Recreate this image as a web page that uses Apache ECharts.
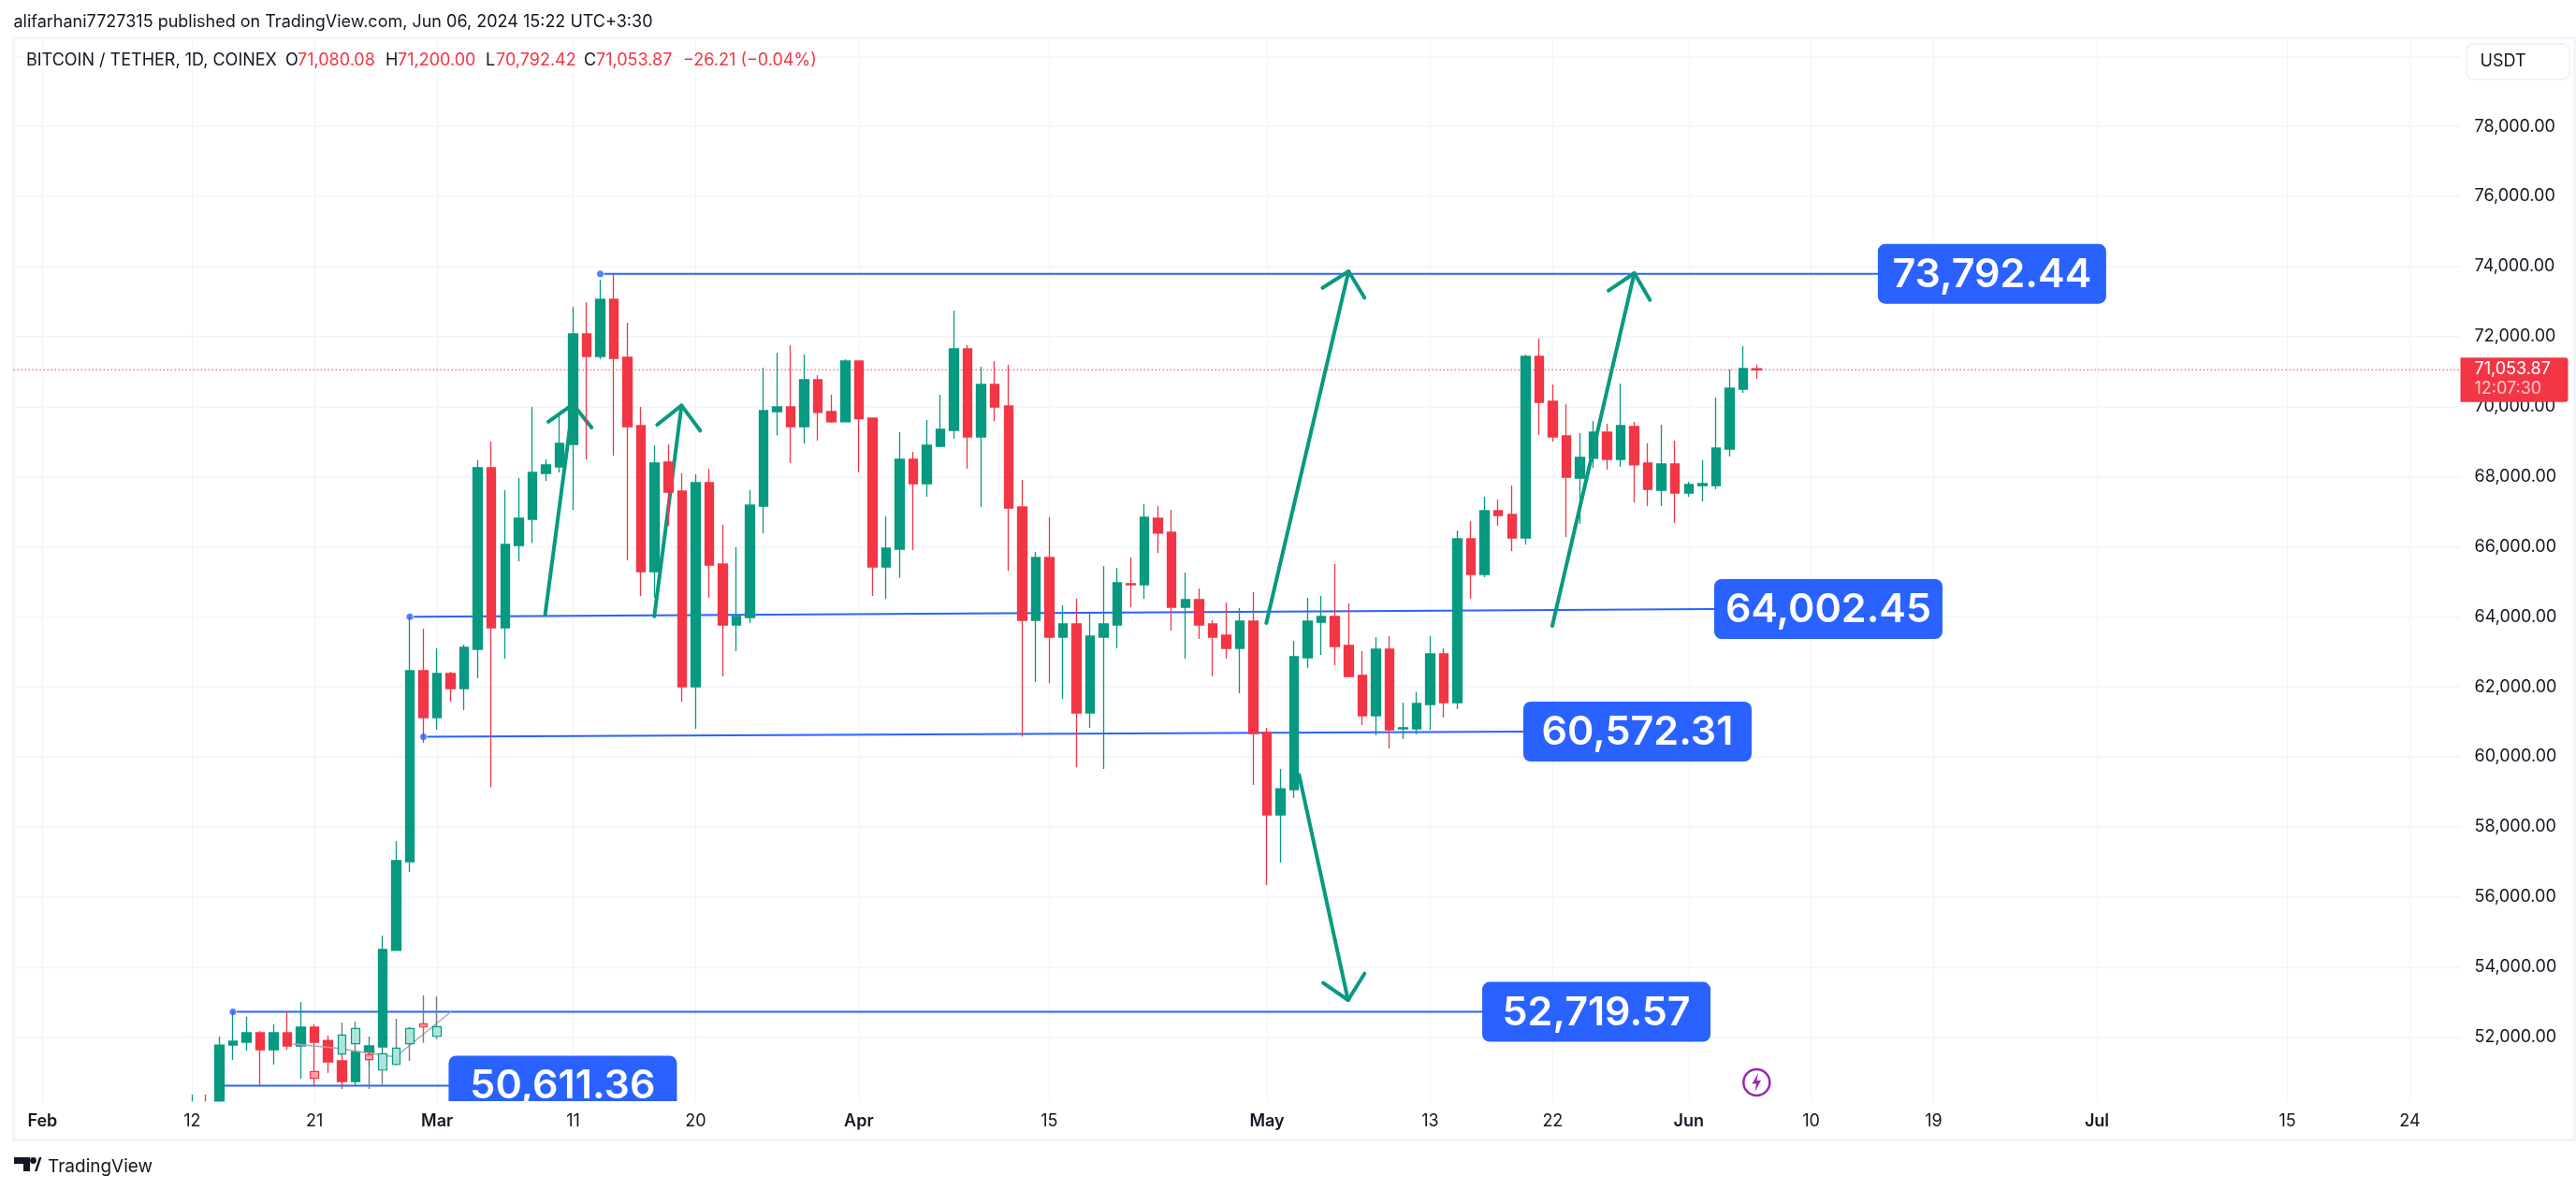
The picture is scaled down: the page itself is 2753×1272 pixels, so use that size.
<!DOCTYPE html>
<html><head><meta charset="utf-8">
<style>html,body{margin:0;padding:0;background:#fff}#c{width:2753px;height:1272px}</style>
<script src="https://cdn.jsdelivr.net/npm/echarts@6/dist/echarts.min.js"></script>
</head><body><div id="c"></div>
<script>
// Daily candles, one small table per month: [open, close, low, high]
const candlesFeb = [[49500,50000,49400,50358],[50000,49800,49700,50358],[49700,51773,49600,52014],[51773,51880,51346,52735],[51854,52121,51612,52575],[52121,51639,50625,52174],[51639,52121,51213,52361],[52121,51747,51639,52735],[51747,52281,50812,53002],[52281,51854,50625,52361],[51906,51292,50972,52040],[51319,50732,50518,51506],[50732,51585,50625,51612],[51559,51747,51159,52014],[51720,54498,51292,54899],[54479,57036,54471,57597],[57009,62459,56715,64008],[62459,61123,60402,63660]];
const candlesMar = [[61123,62378,60776,63100],[62378,61951,61577,62432],[61951,63126,61337,63206],[63073,68256,62245,68469],[68256,63688,59133,69003],[63688,66065,62806,67614],[66038,66813,65584,67962],[66786,68122,66105,69992],[68095,68336,67881,68496],[68282,68950,68122,69751],[68923,72075,67053,72850],[72075,71434,68496,72984],[71434,73064,71354,73625],[73064,71381,68603,73785],[71408,69431,65611,72396],[69457,65290,64595,69992],[65290,68389,64542,68896],[68416,67561,66599,68923],[67588,61999,61577,68095],[61999,67828,60802,68069],[67828,65477,64542,68229],[65504,63767,62298,66626],[63767,64008,63020,65985],[63981,67187,63821,67614],[67160,69885,66386,71114],[69858,69992,69180,71541],[69992,69431,68389,71755],[69431,70766,68950,71488],[70766,69832,69030,70900],[69858,69565,69538,70339],[69565,71301,69565,71354]];
const candlesApr = [[71301,69658,68122,71301],[69671,65424,64595,69671],[65424,65958,64516,66866],[65931,68496,65116,69270],[68496,67801,65905,68710],[67801,68897,67427,69618],[68870,69351,68843,70339],[69324,71648,69083,72744],[71648,69137,68229,71755],[69137,70633,67134,71140],[70633,69992,69591,71301],[70019,67107,65317,71194],[67134,63901,60576,67908],[63901,65691,62138,65852],[65691,63420,62111,66840],[63420,63794,61657,64328],[63794,61256,59707,64516],[61256,63447,60829,64088],[63420,63794,59654,65450],[63767,64970,63100,65397],[64943,64916,64275,65691],[64916,66840,64516,67214],[66813,66386,65825,67160],[66412,64275,63607,67053],[64275,64489,62806,65264],[64489,63767,63367,64809],[63794,63420,62298,63901],[63474,63100,62806,64409],[63100,63874,61818,64248],[63874,60669,59200,64703]];
const candlesMay = [[60696,58345,56341,60829],[58345,59092,56983,59654],[59066,62859,58826,63313],[62832,63874,62539,64542],[63848,64008,62913,64595],[64008,63153,62619,65504],[63180,62298,62272,64382],[62325,61176,60909,63020],[61176,63073,60615,63420],[63073,60776,60242,63447],[60802,60829,60509,61550],[60802,61523,60642,61844],[61497,62939,60776,63447],[62939,61550,61123,63100],[61550,66225,61364,66466],[66225,65210,64516,66733],[65210,67027,65130,67427],[67027,66893,66599,67347],[66920,66252,65878,67748],[66252,71434,66065,71488],[71434,70125,69190,71942],[70152,69137,69003,70633],[69163,67988,66279,70072],[67961,68550,66653,69244],[68523,69270,68255,69591],[69270,68496,68202,69511],[68496,69458,68282,70660],[69431,68336,67267,69565],[68389,67641,67160,68950],[67614,68362,67160,69484],[68362,67534,66679,69030]];
const candlesJun = [[67534,67774,67427,67855],[67748,67801,67294,68469],[67748,68816,67641,70259],[68790,70526,68576,71060],[70499,71087,70392,71728],[71080.08,71053.87,70792.42,71200]];
const firstCandleDay = 11; // Feb 12, counted in days since Feb 1

// Pasted miniature overlay at bottom left: [day since Feb 1, open, close, low, high]
const ghostCandles = [[20,51018,50820,50820,51018],[22,51515,52059,51515,52415],[23,51808,52246,51586,52441],[24,51498,51354,50518,51612],[25,51059,51524,50644,51524],[26,51220,51685,51193,52521],[27,51808,52246,51319,52281],[28,52380,52288,51835,53188],[29,52021,52299,51941,53163]];
const ghostPath = [[18.43,51800],[21.41,51694],[23.24,51586],[25.65,51445],[26.34,51560],[30,52715]];

// Horizontal-level drawings: [day, price] start and end
const levelLines = [
  [[41,73792.44],[134.9,73792.44]],
  [[27,64002.45],[122.87,64222]],
  [[28,60572.31],[108.84,60722]],
  [[14,52719.57],[105.82,52719.57]],
  [[13,50611.36],[29.85,50611.36]]
];
const levelTexts = ['73,792.44','64,002.45','60,572.31','52,719.57','50,611.36'];
const levelMarkers = [[41,73792.44],[27,64002.45],[28,60572.31],[14,52719.57]];

// Arrows: shaft start, tip, then head arm ends, [day, price]
const arrows = [
  [[36.95,64077],[38.99,70067],[37.18,69570],[40.36,69404]],
  [[44.97,64013],[46.97,70034],[45.18,69484],[48.34,69316]],
  [[89.95,63821],[96.0,73865],[94.08,73392],[97.17,73109]],
  [[110.97,63741],[117.0,73812],[115.1,73312],[118.15,73045]],
  [[92.36,59486],[95.96,53056],[94.13,53545],[97.17,53812]]
];

const priceTicks = [52000,54000,56000,58000,60000,62000,64000,66000,68000,70000,72000,74000,76000,78000];
const priceGrid = priceTicks.concat([80000]);
const timeTicks = [[0,'Feb',1],[11,'12',0],[20,'21',0],[29,'Mar',1],[39,'11',0],[48,'20',0],[60,'Apr',1],[74,'15',0],[90,'May',1],[102,'13',0],[111,'22',0],[121,'Jun',1],[130,'10',0],[139,'19',0],[151,'Jul',1],[165,'15',0],[174,'24',0]];
const lastClose = 71053.87;
const countdown = '12:07:30';

const UP='#089981', DOWN='#f23645', BLUE='#2962ff', INK='#131722', GRIDC='#f0f3fa', FONT='Inter';
const candles=[].concat(candlesFeb,candlesMar,candlesApr,candlesMay,candlesJun);
const candleData=candles.map((c,i)=>[firstCandleDay+i,c[0],c[1],c[2],c[3]]);
const tickDays=timeTicks.map(t=>t[0]);
const X_MIN=-2.125, X_MAX=177.72, Y_MIN=50171, Y_MAX=80516;

function lineSeries(points,color,width,z,type){
  return {type:'line',data:points,showSymbol:false,symbol:'none',silent:true,z,
    lineStyle:{color,width,type:type||'solid',cap:'round',join:'round'},animation:false};
}
const series=[];
levelLines.forEach(l=>series.push(lineSeries([[l[0][0]+0.34,l[0][1]+(l[1][1]-l[0][1])*0.34/(l[1][0]-l[0][0])],l[1]],BLUE,2,1)));
arrows.forEach(a=>{
  series.push(lineSeries([a[0],a[1]],UP,4,1));
  series.push(lineSeries([a[2],a[1],a[3]],UP,4,1));
});
series.push({type:'line',data:[[X_MIN,lastClose],[X_MAX,lastClose]],showSymbol:false,symbol:'none',silent:true,z:1,
  lineStyle:{color:DOWN,width:1,type:[1.5,2.5]}});
series.push({type:'candlestick',data:candleData,barWidth:10,z:2,silent:true,encode:{x:0,y:[1,2,3,4]},
  itemStyle:{color:UP,color0:DOWN,borderColor:UP,borderColor0:DOWN,borderWidth:1.3}});
series.push(lineSeries(ghostPath,'#a9abb3',1.5,3));
series.push({type:'candlestick',z:3,barWidth:1,silent:true,encode:{x:0,y:[1,2,3,4]},
  data:ghostCandles.map(g=>{const m=(g[1]+g[2])/2;return [g[0],m,m,g[3],g[4]];}),
  itemStyle:{color:'#787b86',color0:'#787b86',borderColor:'#787b86',borderColor0:'#787b86',borderColorDoji:'#787b86',borderWidth:1.4}});
series.push({type:'candlestick',z:4,barWidth:9,silent:true,encode:{x:0,y:[1,2,3,4]},
  data:ghostCandles.map(g=>[g[0],g[1],g[2],Math.min(g[1],g[2]),Math.max(g[1],g[2])]),
  itemStyle:{color:'#ace5dc',color0:'#fca0a8',borderColor:UP,borderColor0:DOWN,borderWidth:1.2}});
series.push({type:'scatter',data:levelMarkers,symbolSize:7,silent:true,z:5,itemStyle:{color:BLUE}});
series.push({type:'custom',clip:true,z:6,silent:true,encode:{x:0,y:1},
  data:levelLines.map(l=>l[1]),
  renderItem(params,api){
    const p=api.coord([api.value(0),api.value(1)]);
    return {type:'group',children:[
      {type:'rect',shape:{x:p[0],y:p[1]-32,width:244,height:64,r:8},style:{fill:BLUE}},
      {type:'text',style:{x:p[0]+122,y:p[1]+1,text:levelTexts[params.dataIndex],fill:'#fff',
        font:'600 43px '+FONT,align:'center',verticalAlign:'middle'}}
    ]};
  }});
series.push({type:'custom',clip:false,z:8,silent:true,encode:{x:0,y:1},
  data:[[firstCandleDay+candles.length-1,lastClose]],
  renderItem(params,api){
    const y=api.coord([api.value(0),api.value(1)])[1];
    const x=params.coordSys.x+params.coordSys.width;
    return {type:'group',children:[
      {type:'rect',shape:{x,y:y-13,width:115,height:47.5,r:[0,3,3,0]},style:{fill:DOWN}},
      {type:'text',style:{x:x+15,y:y-1,text:lastClose.toLocaleString('en-US',{minimumFractionDigits:2}),fill:'#fff',font:'18px '+FONT,verticalAlign:'middle'}},
      {type:'text',style:{x:x+15,y:y+20,text:countdown,fill:'rgba(255,255,255,0.7)',font:'18px '+FONT,verticalAlign:'middle'}}
    ]};
  }});

const legendBits=[['BITCOIN / TETHER, 1D, COINEX',28,INK],['O',305,INK],['71,080.08',318,DOWN],['H',412,INK],['71,200.00',425,DOWN],['L',519,INK],['70,792.42',530,DOWN],['C',624,INK],['71,053.87',637,DOWN],['\u221226.21 (\u22120.04%)',730,DOWN]];
const txt=(text,x,y,fill,size,extra)=>({type:'text',z:20,silent:true,style:{x,y,text,fill,font:(extra||'')+' '+size+'px '+FONT,verticalAlign:'middle'}});
const graphic=[
  {type:'rect',z:-1,silent:true,shape:{x:14.5,y:40.5,width:2737,height:1178},style:{fill:'none',stroke:GRIDC,lineWidth:2.5}},
  {type:'rect',z:7,silent:true,shape:{x:16,y:1177.5,width:2613,height:39.5},style:{fill:'#fff'}},
  txt('alifarhani7727315 published on TradingView.com, Jun 06, 2024 15:22 UTC+3:30',14.5,24,INK,18),
  ...legendBits.map(b=>txt(b[0],b[1],65,b[2],18)),
  {type:'rect',z:20,silent:true,shape:{x:2636,y:47,width:110,height:38,r:7},style:{fill:'#fff',stroke:GRIDC,lineWidth:2}},
  txt('USDT',2650.5,65.5,INK,18),
  {type:'circle',z:20,silent:true,shape:{cx:1877.3,cy:1157,r:14},style:{fill:'#fff',stroke:'#9c27b0',lineWidth:2.5}},
  {type:'polygon',z:20,silent:true,shape:{points:[[1879,1147],[1872.5,1158.5],[1877,1158.5],[1875.5,1167],[1882,1155],[1877.5,1155]]},style:{fill:'#9c27b0'}},
  {type:'polygon',z:20,silent:true,shape:{points:[[15,1237],[32,1237],[32,1252],[25,1252],[25,1244],[15,1244]]},style:{fill:INK}},
  {type:'circle',z:20,silent:true,shape:{cx:35.5,cy:1240.5,r:3.4},style:{fill:INK}},
  {type:'polygon',z:20,silent:true,shape:{points:[[37,1252],[42,1237],[44.5,1237],[39.5,1252]]},style:{fill:INK}},
  txt('TradingView',51,1247,INK,19)
];

const chart=echarts.init(document.getElementById('c'),null,{renderer:'canvas'});
chart.setOption({
  animation:false,backgroundColor:'#fff',textStyle:{fontFamily:FONT},
  grid:{left:14.5,top:41,width:2615,height:1136,containLabel:false},
  xAxis:[
    {type:'value',min:X_MIN,max:X_MAX,
      axisLine:{show:false},
      axisTick:{show:false,customValues:tickDays},
      splitLine:{show:true,lineStyle:{color:GRIDC,width:1}},
      axisLabel:{show:false}},
    {type:'value',min:X_MIN,max:X_MAX,position:'bottom',z:10,
      axisLine:{show:false},axisTick:{show:false},splitLine:{show:false},
      axisLabel:{customValues:tickDays,margin:13,fontSize:18,color:INK,fontFamily:FONT,hideOverlap:false,
        formatter:(v)=>{const t=timeTicks[tickDays.indexOf(v)];return t[2]?'{b|'+t[1]+'}':t[1];},
        rich:{b:{fontWeight:600,fontSize:18,color:INK,fontFamily:FONT}}}}
  ],
  yAxis:{type:'value',position:'right',min:Y_MIN,max:Y_MAX,
    axisLine:{show:false},
    axisTick:{show:false,customValues:priceGrid},
    splitLine:{show:true,lineStyle:{color:GRIDC,width:1.5}},
    axisLabel:{customValues:priceTicks,margin:15,fontSize:18,color:INK,fontFamily:FONT,
      formatter:v=>v.toLocaleString('en-US',{minimumFractionDigits:2})}},
  series,graphic
});
</script></body></html>
